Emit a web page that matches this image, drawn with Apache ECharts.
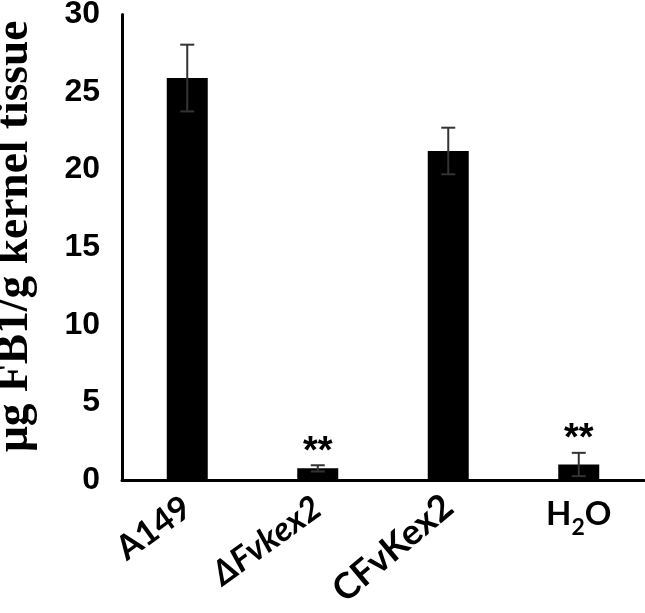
<!DOCTYPE html>
<html>
<head>
<meta charset="utf-8">
<script src="https://cdn.jsdelivr.net/npm/echarts@6/dist/echarts.min.js"></script>
<style>
html,body{margin:0;padding:0;background:#fff;}
#c{width:645px;height:613px;}
</style>
</head>
<body>
<div id="c"></div>
<script>
const categories = ['A149', 'ΔFvkex2', 'CFvKex2', 'H2O'];
const values = [25.9, 0.75, 21.2, 1.0];
const errors = [2.15, 0.2, 1.5, 0.75];
const significance = ['', '**', '', '**'];
const yMin = 0, yMax = 30, yStep = 5;
const yTitle = 'μg FB1/g kernel tissue';

const chart = echarts.init(document.getElementById('c'));

const labelFont = 'Lato, "Open Sans", sans-serif';

function hideAllBut(keep, fmt) {
  return function (v) { return keep.indexOf(v) >= 0 ? fmt(v) : ''; };
}
function rotatedFmt(v) {
  if (v.charAt(0) === 'Δ') return '{it|' + v + '}';
  return v;
}
const rotatedRich = {
  it: { fontStyle: 'italic', fontWeight: 'bold', fontSize: 34, fontFamily: labelFont, color: '#000' }
};

const option = {
  animation: false,
  backgroundColor: '#fff',
  grid: { left: 122, right: 1, top: 14.4, bottom: 133, containLabel: false, outerBoundsMode: 'none' },
  xAxis: [
    {
      type: 'category',
      data: categories,
      position: 'bottom',
      axisLine: { show: true, lineStyle: { color: '#000', width: 3 } },
      axisTick: { show: false },
      axisLabel: {
        rotate: 36,
        margin: 24,
        color: '#000',
        fontFamily: labelFont,
        fontWeight: 'bold',
        fontSize: 34,
        formatter: hideAllBut(['A149', 'ΔFvkex2'], rotatedFmt),
        rich: rotatedRich
      }
    },
    {
      type: 'category',
      data: categories,
      position: 'bottom',
      axisLine: { show: false },
      axisTick: { show: false },
      axisLabel: {
        rotate: 40,
        margin: 22,
        color: '#000',
        fontFamily: labelFont,
        fontWeight: 'bold',
        fontSize: 36,
        formatter: hideAllBut(['CFvKex2'], rotatedFmt),
        rich: rotatedRich
      }
    },
    {
      type: 'category',
      data: categories,
      position: 'bottom',
      axisLine: { show: false },
      axisTick: { show: false },
      axisLabel: {
        rotate: 0,
        margin: 18,
        color: '#000',
        formatter: hideAllBut(['H2O'], function () { return '{h|H}{s|2}{h|O}'; }),
        rich: {
          h: { fontFamily: labelFont, fontWeight: 'bold', fontSize: 33, color: '#000', verticalAlign: 'top' },
          s: { fontFamily: labelFont, fontWeight: 'bold', fontSize: 23, color: '#000', padding: [18, 0, 0, 0], verticalAlign: 'top' }
        }
      }
    }
  ],
  yAxis: {
    type: 'value',
    min: yMin, max: yMax, interval: yStep,
    axisLine: { show: true, lineStyle: { color: '#000', width: 3 } },
    axisTick: { show: false },
    splitLine: { show: false },
    axisLabel: {
      margin: 22,
      color: '#000',
      fontFamily: '"Liberation Sans", Arial, sans-serif',
      fontWeight: 'bold',
      fontSize: 32
    },
    name: yTitle,
    nameLocation: 'middle',
    nameRotate: 90,
    nameGap: 84,
    nameTextStyle: {
      color: '#000',
      fontFamily: '"Liberation Serif", "Times New Roman", serif',
      fontWeight: 'bold',
      fontSize: 45.5,
      padding: [0, 0, 0, 22]
    }
  },
  series: [
    {
      type: 'bar',
      data: values,
      barWidth: 41,
      itemStyle: { color: '#000' },
      xAxisIndex: 0
    },
    {
      type: 'custom',
      xAxisIndex: 0,
      data: values.map((v, i) => [i, v, errors[i]]),
      z: 10,
      renderItem: function (params, api) {
        const i = api.value(0);
        const v = api.value(1);
        const e = api.value(2);
        const top = api.coord([i, v + e]);
        const bot = api.coord([i, v - e]);
        const cap = 7;
        const style = { stroke: '#333', lineWidth: 2 };
        const children = [
          { type: 'line', shape: { x1: top[0], y1: top[1], x2: bot[0], y2: bot[1] }, style: style },
          { type: 'line', shape: { x1: top[0] - cap, y1: top[1], x2: top[0] + cap, y2: top[1] }, style: style },
          { type: 'line', shape: { x1: bot[0] - cap, y1: bot[1], x2: bot[0] + cap, y2: bot[1] }, style: style }
        ];
        const s = significance[params.dataIndex];
        if (s) {
          children.push({
            type: 'text',
            style: {
              text: s, x: top[0], y: top[1] + 6,
              align: 'center', verticalAlign: 'bottom',
              fill: '#000', fontSize: 38, fontWeight: 'bold',
              fontFamily: '"Liberation Sans", Arial, sans-serif'
            }
          });
        }
        return { type: 'group', children: children };
      }
    }
  ]
};
chart.setOption(option);
</script>
</body>
</html>
